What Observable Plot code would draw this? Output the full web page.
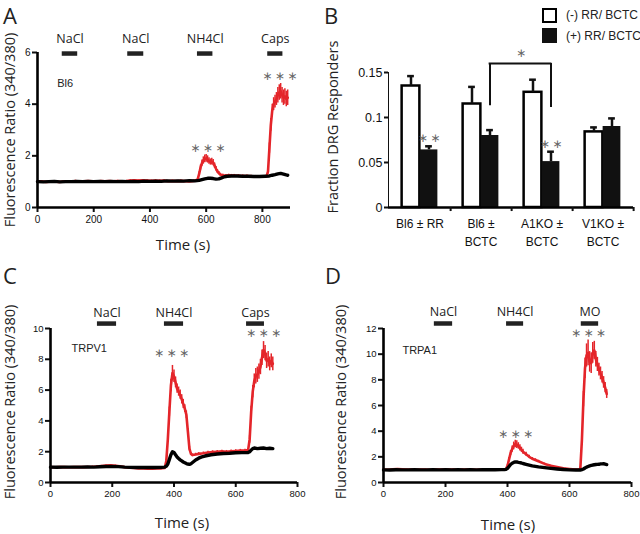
<!DOCTYPE html>
<html><head><meta charset="utf-8">
<script src="https://cdn.jsdelivr.net/npm/d3@7"></script>
<script src="https://cdn.jsdelivr.net/npm/@observablehq/plot@0.6"></script>
<style>
body{margin:0;background:#fff}
#fig{position:relative;width:640px;height:534px;overflow:hidden;background:#fff;font-family:"Open Sans",sans-serif;color:#222}
.panel{position:absolute}
.lbl{position:absolute;white-space:nowrap;line-height:1.2;transform:translate(-50%,-50%)}
.let{position:absolute;white-space:nowrap;line-height:1;font-size:22px}
.ylab{position:absolute;white-space:nowrap;line-height:1.2;transform:translate(-50%,-50%) rotate(-90deg)}
.leg{position:absolute;white-space:nowrap;line-height:1.2;transform:translate(0,-50%);font-family:"Liberation Sans",Arial,sans-serif;font-size:12px;color:#222}
.sq{position:absolute;width:15px;height:15px;box-sizing:border-box}
#fig svg [aria-label^="x-axis"] line,#fig svg [aria-label^="x-axis"] path,#fig svg [aria-label^="y-axis"] line,#fig svg [aria-label^="y-axis"] path{stroke-width:2}
</style>
</head><body>
<div id="fig"></div>
<script>
// ---------- Data ----------
// Panel A (Bl6): [time s, ratio, sem]
const redA = [[0,1.0,.03],[15,1.01,.03],[30,0.99,.03],[45,1.0,.03],[60,1.01,.03],[75,0.99,.03],[90,1.0,.03],[105,1.01,.03],[120,1.0,.03],[135,1.02,.03],[150,1.0,.03],[165,1.01,.03],[180,1.02,.03],[195,1.01,.03],[210,1.0,.03],[225,1.02,.03],[240,1.01,.03],[255,1.02,.03],[270,1.01,.03],[285,1.02,.03],[300,1.01,.03],[315,1.02,.03],[330,1.04,.03],[345,1.05,.03],[360,1.04,.03],[375,1.05,.03],[390,1.04,.03],[405,1.03,.03],[420,1.04,.03],[435,1.03,.03],[450,1.04,.03],[465,1.02,.03],[480,1.03,.03],[495,1.02,.03],[510,1.03,.03],[525,1.02,.03],[540,1.01,.03],[555,1.03,.03],[565,1.05,.04],[570,1.1,.05],[575,1.3,.08],[580,1.55,.1],[585,1.72,.12],[590,1.82,.14],[595,1.88,.15],[600,1.9,.15],[605,1.86,.14],[610,1.8,.13],[615,1.76,.12],[620,1.78,.13],[625,1.74,.12],[630,1.62,.1],[635,1.5,.09],[640,1.4,.07],[645,1.33,.06],[650,1.28,.05],[660,1.25,.04],[670,1.24,.04],[680,1.25,.04],[690,1.24,.04],[700,1.24,.04],[715,1.23,.04],[730,1.22,.04],[745,1.22,.04],[760,1.21,.04],[775,1.2,.04],[790,1.19,.04],[805,1.2,.04],[815,1.21,.05],[820,1.4,.1],[825,2.3,.2],[830,3.2,.25],[835,3.75,.25],[840,4.0,.25],[845,4.1,.25],[850,4.2,.25],[855,4.35,.3],[860,4.45,.3],[865,4.5,.3],[870,4.35,.3],[875,4.25,.3],[880,4.3,.3],[885,4.2,.3],[890,4.25,.3]];
const blackA = [[0,1.0],[20,0.99],[40,1.0],[60,1.01],[80,0.99],[100,1.0],[120,1.0],[140,1.01],[160,1.0],[180,1.01],[200,1.0],[220,1.01],[240,1.0],[260,1.01],[280,1.0],[300,1.01],[320,1.0],[340,1.01],[360,1.0],[380,1.02],[400,1.01],[420,1.02],[440,1.01],[460,1.03],[480,1.02],[500,1.03],[520,1.02],[540,1.04],[560,1.03],[575,1.05],[585,1.08],[595,1.11],[605,1.13],[615,1.13],[625,1.12],[635,1.1],[645,1.11],[655,1.15],[665,1.19],[675,1.21],[690,1.22],[710,1.22],[730,1.21],[750,1.21],[770,1.2],[790,1.2],[810,1.21],[825,1.22],[835,1.25],[845,1.27],[855,1.3],[865,1.32],[875,1.29],[885,1.26],[890,1.25]];
const stimNamesA = ["NaCl","NaCl","NH4Cl","Caps"];
const stimStartA = [88,321,569,819];
const stimEndA = [143,378,624,873];

// Panel C (TRPV1)
const redC = [[0,1.0,.03],[15,0.99,.03],[30,1.0,.03],[45,1.0,.03],[60,0.99,.03],[75,1.0,.03],[90,1.0,.03],[105,1.0,.03],[120,1.01,.03],[135,1.02,.03],[150,1.04,.04],[165,1.07,.04],[180,1.1,.04],[195,1.11,.04],[210,1.09,.04],[225,1.05,.04],[240,1.0,.03],[255,0.96,.03],[270,0.94,.03],[285,0.92,.03],[300,0.91,.03],[315,0.9,.03],[330,0.9,.03],[345,0.91,.03],[360,0.92,.03],[370,0.95,.04],[375,1.4,.1],[380,2.8,.2],[385,4.6,.3],[390,6.3,.4],[395,7.1,.5],[400,6.9,.4],[405,6.5,.35],[410,6.1,.3],[415,5.9,.3],[420,5.7,.3],[425,5.4,.3],[430,5.1,.3],[435,4.8,.25],[440,4.4,.25],[445,3.3,.2],[450,2.2,.15],[455,1.85,.1],[460,1.78,.08],[470,1.82,.08],[480,1.86,.08],[495,1.9,.08],[510,1.95,.08],[525,1.98,.08],[540,2.0,.08],[555,2.02,.08],[570,2.0,.08],[585,2.03,.08],[600,2.05,.08],[615,2.07,.08],[630,2.08,.08],[640,2.1,.1],[645,2.8,.25],[650,4.6,.35],[655,5.9,.4],[660,6.6,.45],[665,6.9,.5],[670,7.0,.5],[675,7.2,.5],[680,7.5,.5],[685,8.1,.5],[690,8.6,.55],[695,8.4,.5],[700,7.9,.5],[705,8.0,.5],[710,7.7,.45],[715,7.9,.45],[720,7.7,.45]];
const blackC = [[0,1.0],[20,0.99],[40,1.0],[60,1.0],[80,1.0],[100,1.0],[120,1.01],[140,1.0],[160,1.02],[180,1.04],[200,1.05],[220,1.03],[240,1.0],[260,0.98],[280,0.97],[300,0.98],[320,0.97],[340,0.97],[360,0.98],[370,1.0],[375,1.05],[380,1.2],[385,1.5],[390,1.8],[395,2.0],[400,1.95],[405,1.8],[410,1.66],[415,1.56],[420,1.47],[425,1.4],[430,1.33],[435,1.28],[440,1.23],[445,1.2],[450,1.18],[455,1.22],[460,1.3],[465,1.38],[470,1.46],[480,1.58],[490,1.66],[500,1.72],[520,1.8],[540,1.85],[560,1.88],[580,1.9],[600,1.93],[620,1.94],[640,1.95],[645,2.0],[650,2.1],[655,2.2],[660,2.24],[670,2.2],[680,2.22],[690,2.24],[700,2.2],[710,2.22],[720,2.2]];
const stimNamesC = ["NaCl","NH4Cl","Caps"];
const stimStartC = [152,369,635];
const stimEndC = [214,431,693];

// Panel D (TRPA1)
const redD = [[0,1.0,.03],[15,0.99,.03],[30,1.02,.03],[45,1.04,.03],[60,1.02,.03],[75,1.0,.03],[90,1.0,.03],[105,0.99,.03],[120,1.0,.03],[135,1.0,.03],[150,0.99,.03],[165,1.0,.03],[180,1.0,.03],[195,1.01,.03],[210,1.0,.03],[225,1.0,.03],[240,0.99,.03],[255,1.0,.03],[270,1.0,.03],[285,1.0,.03],[300,0.99,.03],[315,1.0,.03],[330,1.0,.03],[345,1.0,.03],[360,1.0,.03],[375,1.0,.03],[390,1.01,.04],[395,1.05,.05],[400,1.3,.1],[405,1.8,.15],[410,2.3,.2],[415,2.6,.25],[420,2.85,.3],[425,3.0,.3],[430,2.95,.3],[435,2.85,.25],[440,2.7,.25],[445,2.55,.2],[450,2.4,.2],[460,2.2,.15],[470,2.0,.12],[480,1.85,.1],[490,1.75,.1],[500,1.65,.08],[520,1.45,.06],[540,1.3,.05],[560,1.2,.05],[580,1.1,.04],[600,1.05,.04],[620,1.0,.04],[630,1.0,.04],[635,1.1,.1],[640,3.3,.4],[645,6.5,.6],[650,8.9,.8],[655,9.9,.9],[660,10.1,1.0],[665,9.4,.8],[670,9.3,.8],[675,10.1,.8],[680,10.3,.7],[685,9.6,.6],[690,9.2,.55],[695,8.8,.5],[700,8.5,.5],[705,8.2,.45],[710,7.8,.45],[715,7.4,.4],[720,6.9,.35]];
const blackD = [[0,0.98],[20,0.97],[40,0.99],[60,0.98],[80,0.98],[100,0.99],[120,0.98],[140,0.98],[160,0.99],[180,0.98],[200,0.99],[220,0.98],[240,0.99],[260,0.98],[280,0.99],[300,0.98],[320,0.99],[340,0.99],[360,0.99],[380,1.0],[390,1.0],[395,1.02],[400,1.1],[405,1.25],[410,1.4],[415,1.5],[420,1.56],[425,1.6],[430,1.6],[435,1.57],[440,1.55],[445,1.52],[450,1.48],[460,1.42],[470,1.36],[480,1.3],[490,1.26],[500,1.22],[520,1.16],[540,1.1],[560,1.05],[580,1.01],[600,0.98],[620,0.97],[635,0.97],[640,1.0],[645,1.05],[650,1.13],[655,1.2],[660,1.25],[665,1.3],[670,1.33],[675,1.36],[680,1.38],[685,1.4],[690,1.41],[695,1.42],[700,1.45],[705,1.45],[710,1.46],[715,1.43],[720,1.4]];
const stimNamesD = ["NaCl","NH4Cl","MO"];
const stimStartD = [164,397,638];
const stimEndD = [223,452,694];

// Panel B
const groupsB = ["Bl6 ± RR","Bl6 ±\nBCTC","A1KO ±\nBCTC","V1KO ±\nBCTC"];
const minusB = [0.135,0.115,0.128,0.084];
const minusErrB = [0.011,0.019,0.014,0.005];
const plusB = [0.064,0.080,0.051,0.090];
const plusErrB = [0.004,0.006,0.011,0.009];
const sigB = ["**","","**",""];
const legendB = ["(-)  RR/ BCTC","(+) RR/ BCTC"];

// ---------- Drawing ----------
const RED = "#e4252a";
const STAR = "∗\u2009∗\u2009∗";
const fig = document.getElementById("fig");
function place(node, left, top){ const d=document.createElement("div"); d.className="panel"; d.style.left=left+"px"; d.style.top=top+"px"; d.appendChild(node); fig.appendChild(d); }
function html(cls, text, x, y, extra){ const d=document.createElement("div"); d.className=cls; d.textContent=text; d.style.left=x+"px"; d.style.top=y+"px"; Object.assign(d.style, extra||{}); fig.appendChild(d); return d; }

function stimRows(names, starts, ends){ return names.map((n,i)=>({name:n, start:starts[i], end:ends[i]})); }

function tracePlot(o){
  const stim = stimRows(o.names, o.starts, o.ends);
  return Plot.plot({
    width: o.width, height: o.height,
    marginLeft: o.ml, marginRight: o.mr, marginTop: o.mt, marginBottom: o.mb,
    style: {fontFamily: "'Liberation Sans', Arial, sans-serif", fontSize: o.tickFont+"px", color: "#111", background: "transparent", overflow: "visible"},
    x: {domain: o.xDomain, ticks: o.xTicks, tickFormat: d=>String(d), tickSize: 5, tickPadding: 3, label: null},
    y: {domain: o.yDomain, ticks: o.yTicks, tickFormat: d=>String(d), tickSize: 5, tickPadding: 2, label: null},
    marks: [
      Plot.ruleX(o.red, {x: d=>d[0], y1: d=>d[1]-d[2], y2: d=>d[1]+d[2], stroke: RED, strokeWidth: 1.5}),
      Plot.line(o.red, {x: d=>d[0], y: d=>d[1], stroke: RED, strokeWidth: 2.6}),
      Plot.line(o.black, {x: d=>d[0], y: d=>d[1], stroke: "#000", strokeWidth: 3.4}),
      Plot.ruleY([o.yDomain[0]], {stroke: "#000", strokeWidth: 2.6}),
      Plot.ruleX([o.xDomain[0]], {stroke: "#000", strokeWidth: 2.6}),
      Plot.ruleY(stim, {x1: "start", x2: "end", y: o.stimY, stroke: "#222", strokeWidth: 4.5}),
      Plot.text(stim, {x: d=>(d.start+d.end)/2, y: o.stimY, dy: o.stimDy, text: "name", fontFamily: "'Open Sans', sans-serif", fontSize: 12.5, fill: "#222"}),
      Plot.text([o.name], {x: o.nameX, y: o.nameY, text: d=>d, textAnchor: "start", fontSize: 11, fill: "#222"}),
      Plot.text(o.stars, {x: d=>d[0], y: d=>d[1], text: () => STAR, fontFamily: "'DejaVu Sans', sans-serif", fontSize: 12, fill: "#666"})
    ]
  });
}

// Panel A
place(tracePlot({
  width: 320, height: 270, ml: 37, mr: 30, mt: 52, mb: 63, tickFont: 10,
  xDomain: [0,900], xTicks: [0,200,400,600,800], yDomain: [0,6], yTicks: [0,2,4,6],
  red: redA, black: blackA, names: stimNamesA, starts: stimStartA, ends: stimEndA,
  stimY: 5.96, stimDy: -15, name: "Bl6", nameX: 70, nameY: 4.8,
  stars: [[606,2.3],[862,5.1]]
}), 0, 0);

// Panel C
place(tracePlot({
  width: 320, height: 264, ml: 50, mr: 23, mt: 58, mb: 52, tickFont: 9.5,
  xDomain: [0,800], xTicks: [0,200,400,600,800], yDomain: [0,10], yTicks: [0,2,4,6,8,10],
  red: redC, black: blackC, names: stimNamesC, starts: stimStartC, ends: stimEndC,
  stimY: 10.32, stimDy: -11, name: "TRPV1", nameX: 68, nameY: 8.7,
  stars: [[392,8.4],[690,9.7]]
}), 0, 270);

// Panel D
place(tracePlot({
  width: 320, height: 264, ml: 63, mr: 9, mt: 58, mb: 52, tickFont: 9.5,
  xDomain: [0,800], xTicks: [0,200,400,600,800], yDomain: [0,12], yTicks: [0,2,4,6,8,10,12],
  red: redD, black: blackD, names: stimNamesD, starts: stimStartD, ends: stimEndD,
  stimY: 12.39, stimDy: -11, name: "TRPA1", nameX: 61, nameY: 10.3,
  stars: [[426,3.75],[661,11.6]]
}), 320, 270);

// Panel B
const rowsB = groupsB.map((g,i)=>({g, minus: minusB[i], minusErr: minusErrB[i], plus: plusB[i], plusErr: plusErrB[i], sig: sigB[i]}));
const bandW = (320-68-7)/groupsB.length;
const half = bandW/2, barW = 18, cap = 3.5;
place(Plot.plot({
  width: 320, height: 270, marginLeft: 68, marginRight: 7, marginTop: 72, marginBottom: 63,
  style: {fontFamily: "'Liberation Sans', Arial, sans-serif", fontSize: "12.5px", color: "#111", background: "transparent", overflow: "visible"},
  x: {domain: groupsB, padding: 0, axis: null},
  y: {domain: [0,0.15], ticks: [0,0.05,0.1,0.15], tickFormat: d=>String(d), tickSize: 4, tickPadding: 2, label: null, line: true},
  marks: [
    Plot.barY(rowsB, {x: "g", y: "minus", fill: "white", stroke: "#000", strokeWidth: 2.5, insetLeft: half-barW, insetRight: half}),
    Plot.barY(rowsB, {x: "g", y: "plus", fill: "#111", insetLeft: half, insetRight: half-barW}),
    Plot.ruleX(rowsB, {x: "g", y1: "minus", y2: d=>d.minus+d.minusErr, dx: -barW/2, strokeWidth: 2.5}),
    Plot.tickY(rowsB, {x: "g", y: d=>d.minus+d.minusErr, insetLeft: half-barW/2-cap, insetRight: half+barW/2-cap, strokeWidth: 2.5}),
    Plot.ruleX(rowsB, {x: "g", y1: "plus", y2: d=>d.plus+d.plusErr, dx: barW/2, strokeWidth: 2.5}),
    Plot.tickY(rowsB, {x: "g", y: d=>d.plus+d.plusErr, insetLeft: half+barW/2-cap, insetRight: half-barW/2-cap, strokeWidth: 2.5}),
    Plot.ruleY([0], {stroke: "#000", strokeWidth: 2.6}),
    Plot.ruleX(groupsB, {x: d=>d, dx: half, y1: 0, y2: -0.0045, strokeWidth: 2}),
    Plot.text(rowsB.filter(d=>d.sig), {x: "g", y: d=>d.plus+d.plusErr, dx: barW/2, dy: -8, text: d=>d.sig.split("").map(()=>"∗").join("\u2009"), fontFamily: "'DejaVu Sans', sans-serif", fontSize: 12, fill: "#666"}),
    // significance bracket between (+) BCTC bars of Bl6 and A1KO
    Plot.ruleX([groupsB[1]], {x: d=>d, dx: barW/2, y1: 0.113, y2: 0.16, strokeWidth: 2}),
    Plot.ruleX([groupsB[2]], {x: d=>d, dx: barW/2, y1: 0.111, y2: 0.16, strokeWidth: 2}),
    Plot.ruleY([0.16], {x1: () => groupsB[1], x2: () => groupsB[2], insetLeft: half+barW/2-1, insetRight: half-barW/2-1, strokeWidth: 2}),
    Plot.text(["∗"], {x: () => groupsB[2], y: 0.171, dx: -21, text: d=>d, fontFamily: "'DejaVu Sans', sans-serif", fontSize: 12, fill: "#666"}),
    Plot.text(groupsB, {x: d=>d, frameAnchor: "bottom", lineAnchor: "top", dy: 8, text: d=>d, fontSize: 12, lineHeight: 1.5, fill: "#111"})
  ]
}), 320, 0);

// Panel letters, axis titles, legend
html("let", "A", 3, 4); html("let", "B", 324, 4); html("let", "C", 3, 264); html("let", "D", 325, 264);
const Y = {fontSize: "14.5px"};
html("ylab", "Fluorescence Ratio (340/380)", 10, 130, Y);
html("ylab", "Fraction DRG Responders", 333, 127, Y);
html("ylab", "Fluorescence Ratio (340/380)", 10, 402, Y);
html("ylab", "Fluorescence Ratio (340/380)", 341, 402, Y);
const X = {fontSize: "15px"};
html("lbl", "Time (s)", 183, 244, X);
html("lbl", "Time (s)", 182, 522, X);
html("lbl", "Time (s)", 508, 524, X);
// legend
const s1 = document.createElement("div"); s1.className = "sq"; Object.assign(s1.style, {left: "542px", top: "8px", border: "2.5px solid #000", background: "#fff"}); fig.appendChild(s1);
const s2 = document.createElement("div"); s2.className = "sq"; Object.assign(s2.style, {left: "542px", top: "28px", background: "#111"}); fig.appendChild(s2);
html("leg", legendB[0], 566, 15);
html("leg", legendB[1], 566, 36);
</script>
</body></html>
